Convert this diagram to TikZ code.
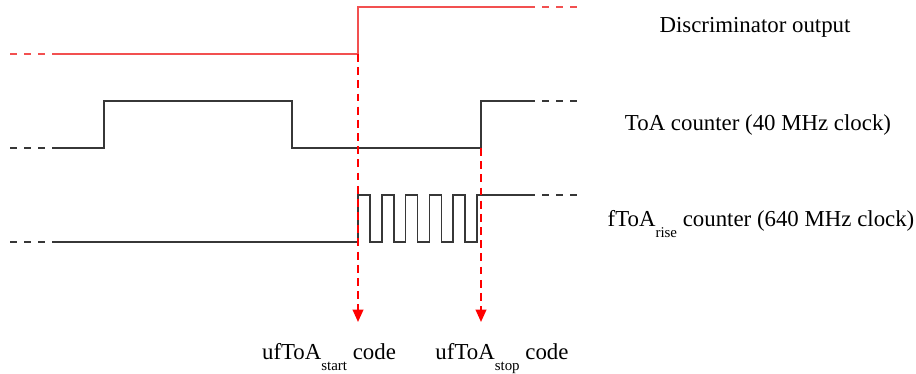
\documentclass[tikz,border=0pt]{standalone}
\usepackage{fontspec}
\setmainfont{Liberation Serif}
\usetikzlibrary{positioning}
\usetikzlibrary{calc}
\usetikzlibrary{arrows.meta}

\definecolor{discred}{RGB}{242,80,80}
\definecolor{sigblack}{RGB}{55,55,55}

\newcommand{\sublow}[1]{\raisebox{-6.2pt}{\fontsize{8.5}{9}\selectfont #1}}

\tikzset{
  sigline/.style={sigblack, line width=0.85pt},
  discline/.style={discred, line width=0.85pt},
  tailend/.style={dash pattern=on 4pt off 4pt},
  marker/.style={red, line width=1.1pt, dash pattern=on 4.5pt off 3pt,
    -{Triangle[length=7pt,width=6pt]}},
  siglabel/.style={inner sep=0pt, anchor=base}
}

\begin{document}
\begin{tikzpicture}[x=0.02cm, y=-0.02cm, font=\fontsize{13}{15}\selectfont]
\useasboundingbox (0,0) rectangle (916,374);

% discriminator output
\coordinate (disc) at (56,54);
\coordinate (discup) at (358,54);
\draw[discline, tailend] ([shift={(-46,0)}]disc) -- (disc);
\draw[discline] (disc) -- (discup) -- ([shift={(0,-47)}]discup) -- ([shift={(170,-47)}]discup);
\draw[discline, tailend] ([shift={(170,-47)}]discup) -- ([shift={(220,-47)}]discup);
\node[siglabel] (disclbl) at (755,33) {Discriminator output};

% ToA counter
\coordinate (toa) at (56,148);
\coordinate (toaup) at (481,148);
\draw[sigline, tailend] ([shift={(-46,0)}]toa) -- (toa);
\draw[sigline] (toa) -- (104,148) -- (104,101) -- (292,101) -- (292,148) -- (toaup)
  -- ([shift={(0,-47)}]toaup) -- ([shift={(47,-47)}]toaup);
\draw[sigline, tailend] ([shift={(47,-47)}]toaup) -- ([shift={(97,-47)}]toaup);
\node[siglabel] (toalbl) at (758,131) {ToA counter (40 MHz clock)};

% fToA counter
\coordinate (ftoa) at (56,242);
\coordinate (ftoaup) at (358,242);
\draw[sigline, tailend] ([shift={(-46,0)}]ftoa) -- (ftoa);
\draw[sigline] (ftoa) -- (ftoaup) -- ++(0,-47)
  \foreach \i in {0,...,4} { -- ++(12,0) -- ++(0,47) -- ++(11.8,0) -- ++(0,-47) }
  -- (528,195) coordinate (ftoaend);
\draw[sigline, tailend] (ftoaend) -- ++(50,0);
\node[siglabel] (ftoalbl) at (761,227) {fToA\sublow{rise} counter (640 MHz clock)};

% codes
\node[siglabel] (ustart) at (329,360) {ufToA\sublow{start} code};
\node[siglabel] (ustop) at (502,360) {ufToA\sublow{stop} code};
\coordinate (tipstart) at (358,322);
\coordinate (tipstop) at (481,322);
\draw[marker] (discup) -- (tipstart);
\draw[marker] (toaup) -- (tipstop);
\end{tikzpicture}
\end{document}
